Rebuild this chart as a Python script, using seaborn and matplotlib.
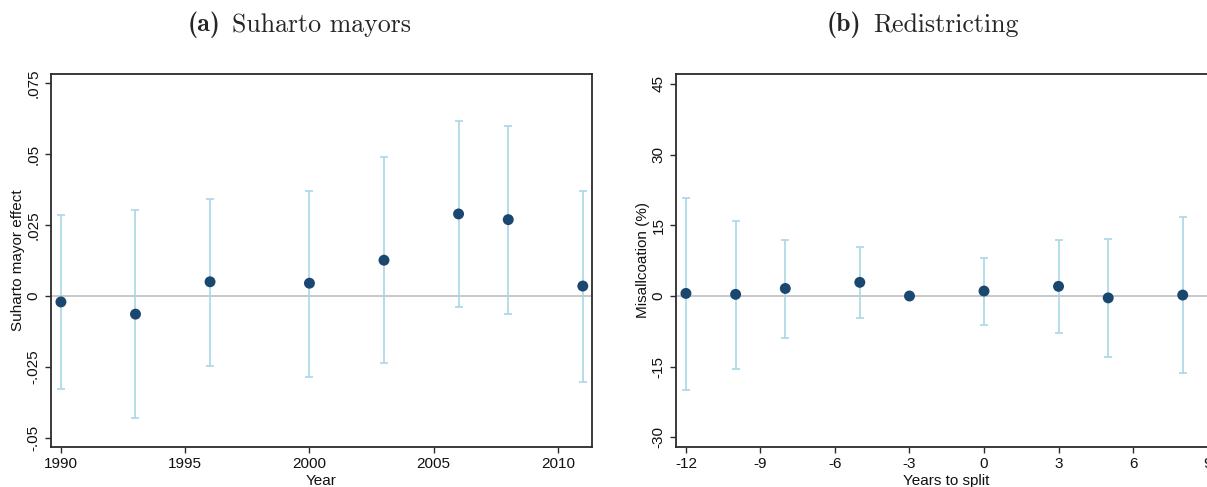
import os
import numpy as np
import pandas as pd
import matplotlib
matplotlib.use("Agg")
import matplotlib.pyplot as plt
from matplotlib.font_manager import FontProperties
import seaborn as sns

# Panel (a): Suharto-mayor effect by year
years = [1990, 1993, 1996, 2000, 2003, 2006, 2008, 2011]
suharto_effect = [-0.0021, -0.0064, 0.0050, 0.0045, 0.0126, 0.0289, 0.0269, 0.0035]
suharto_lo = [-0.0329, -0.0430, -0.0248, -0.0285, -0.0237, -0.0038, -0.0065, -0.0304]
suharto_hi = [0.0284, 0.0302, 0.0342, 0.0370, 0.0488, 0.0617, 0.0600, 0.0371]
suharto_ticks = [-0.05, -0.025, 0, 0.025, 0.05, 0.075]
suharto_ticklabels = ["-.05", "-.025", "0", ".025", ".05", ".075"]
year_ticks = [1990, 1995, 2000, 2005, 2010]

# Panel (b): misallocation around district splits (t = -3 is the omitted year)
years_to_split = [-12, -10, -8, -5, -3, 0, 3, 5, 8]
misalloc = [0.55, 0.35, 1.6, 2.9, 0.0, 1.05, 2.05, -0.4, 0.2]
misalloc_lo = [-19.9, -15.4, -8.9, -4.7, np.nan, -6.1, -7.8, -12.9, -16.4]
misalloc_hi = [20.9, 16.0, 11.9, 10.4, np.nan, 8.0, 11.9, 12.0, 16.7]
misalloc_ticks = [-30, -15, 0, 15, 30, 45]
split_ticks = [-12, -9, -6, -3, 0, 3, 6, 9]

sns.set_theme(style="white")
plt.rcParams["font.family"] = ["Liberation Sans", "DejaVu Sans"]

POINT = "#1a476f"
CI = "#a9d7e6"
ZERO = "#c4c4c4"
FRAME = "#2b2b2b"

ttf_dir = os.path.join(matplotlib.get_data_path(), "fonts", "ttf")
cm_bold = FontProperties(fname=os.path.join(ttf_dir, "cmb10.ttf"), size=18.6)
cm_roman = FontProperties(fname=os.path.join(ttf_dir, "cmr10.ttf"), size=18.6)

W, H = 1207, 487
fig = plt.figure(figsize=(W / 100, H / 100), dpi=100)
ax_a = fig.add_axes([51 / W, 40 / H, 541 / W, 373 / H])
ax_b = fig.add_axes([676 / W, 40 / H, 541 / W, 373 / H])


def draw_panel(ax, x, est, lo, hi, xlim, ylim, xticks, yticks, yticklabels, xlabel, ylabel):
    df = pd.DataFrame({"x": x, "est": est, "lo": lo, "hi": hi})
    ax.axhline(0, color=ZERO, lw=1.3, zorder=1)
    ci = df.dropna()
    ax.errorbar(ci["x"], ci["est"],
                yerr=[ci["est"] - ci["lo"], ci["hi"] - ci["est"]],
                fmt="none", ecolor=CI, elinewidth=1.2, capsize=3.0,
                capthick=1.2, zorder=2)
    sns.scatterplot(data=df, x="x", y="est", ax=ax, color=POINT, s=62,
                    edgecolor="none", zorder=3)
    ax.set_xlim(*xlim)
    ax.set_ylim(*ylim)
    ax.set_xticks(xticks)
    ax.set_xticklabels([str(t) for t in xticks])
    ax.set_yticks(yticks)
    ax.set_yticklabels(yticklabels, rotation=90, va="center")
    ax.tick_params(axis="both", which="major", direction="out", length=4.3,
                   width=1.0, color=FRAME, labelsize=11, labelcolor="#111111", pad=3)
    ax.tick_params(top=False, right=False, left=True, bottom=True)
    for sp in ax.spines.values():
        sp.set_visible(True)
        sp.set_color(FRAME)
        sp.set_linewidth(1.3)
    ax.set_xlabel(xlabel, fontsize=11, labelpad=2, color="#111111")
    ax.set_ylabel(ylabel, fontsize=11, labelpad=1, color="#111111")
    ax.grid(False)


draw_panel(ax_a, years, suharto_effect, suharto_lo, suharto_hi,
           (1989.6, 2011.37), (-0.0532, 0.0782), year_ticks, suharto_ticks,
           suharto_ticklabels, "Year", "Suharto mayor effect")
draw_panel(ax_b, years_to_split, misalloc, misalloc_lo, misalloc_hi,
           (-12.4, 9.38), (-32.05, 47.12), split_ticks, misalloc_ticks,
           [str(t) for t in misalloc_ticks], "Years to split", "Misallcoation (%)")

# Panel captions: bold label followed by roman title
title_y = 1 - 25 / H
fig.text(221 / W, title_y, "(a)", fontproperties=cm_bold, ha="right", va="center")
fig.text(232 / W, title_y, "Suharto mayors", fontproperties=cm_roman, ha="left", va="center")
fig.text(861 / W, title_y, "(b)", fontproperties=cm_bold, ha="right", va="center")
fig.text(873 / W, title_y, "Redistricting", fontproperties=cm_roman, ha="left", va="center")

fig.savefig("out.png", dpi=100, facecolor="white")
